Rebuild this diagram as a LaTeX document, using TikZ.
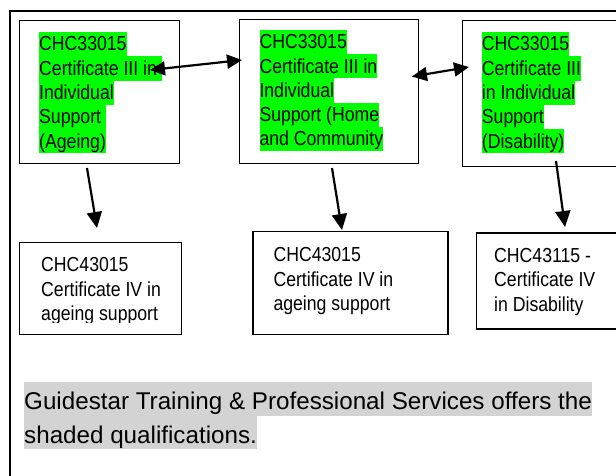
\documentclass[tikz,border=0pt]{standalone}
\usepackage{fontspec}
\setmainfont{Liberation Sans}
\newfontfamily\boxfont[FakeStretch=0.87]{Liberation Sans}
\usetikzlibrary{arrows.meta}
\definecolor{hlgreen}{RGB}{0,255,0}
\definecolor{hlgray}{RGB}{211,211,211}
\newcommand\ghl[1]{{\setlength\fboxsep{0pt}\colorbox{hlgreen}{\rule[-5.3pt]{0pt}{24.3pt}#1}}}
\newcommand\gyl[1]{{\setlength\fboxsep{0pt}\colorbox{hlgray}{\rule[-6pt]{0pt}{33.5pt}#1}}}
\newcommand\bxfont{\boxfont\fontsize{20.3pt}{24.3pt}\selectfont\lineskiplimit=-10pt\relax}
\newcommand\lowfont{\boxfont\fontsize{20.3pt}{24.4pt}\selectfont\lineskiplimit=-10pt\relax}
\newcommand\notefont{\fontsize{24.2pt}{33.5pt}\selectfont\lineskiplimit=-10pt\relax}
\newcommand\topstrut{\rule{0pt}{15pt}}
\tikzset{
  box/.style={draw, line width=1.3pt, fill=white, anchor=north west, inner sep=0pt},
  hltext/.style={anchor=north west, inner sep=0pt, align=left, font=\bxfont},
  lowtext/.style={anchor=north west, inner sep=0pt, align=left, font=\lowfont},
  arr/.style={line width=2.2pt, -{Triangle[length=16pt,width=15pt]}},
  darr/.style={line width=2.2pt, {Triangle[length=15pt,width=14pt]}-{Triangle[length=15pt,width=14pt]}}
}
\begin{document}
\begin{tikzpicture}[x=1pt,y=-1pt]
\useasboundingbox (0,0) rectangle (616,475);
\clip (0,0) rectangle (616,475);
\fill[white] (0,0) rectangle (616,475);
% outer frame
\draw[line width=2pt] (10,480) -- (10,11) -- (625,11) -- (625,480);
% upper boxes
\node[box, minimum width=160pt, minimum height=143pt] (b1) at (19,20) {};
\node[box, minimum width=179.5pt, minimum height=144pt] (b2) at (238.5,19) {};
\node[box, minimum width=154pt, minimum height=146pt] (b3) at (461.5,20) {};
% lower boxes
\node[box, minimum width=162pt, minimum height=92pt] (b4) at (19,242) {};
\node[box, minimum width=195pt, minimum height=103pt] (b5) at (252.3,231) {};
\node[box, minimum width=140pt, minimum height=96pt] (b6) at (476,232.3) {};
% highlighted texts
\node[hltext] (t1) at (39,31.7) {\ghl{CHC33015}\\\ghl{Certificate III in }\\\ghl{Individual}\\\ghl{Support }\\\ghl{(Ageing)}};
\node[hltext] (t2) at (259.3,29.5) {\ghl{CHC33015}\\\ghl{Certificate III in}\\\ghl{Individual}\\\ghl{Support (Home}\\\ghl{and Community}};
\node[hltext] (t3) at (481.7,31.7) {\ghl{CHC33015}\\\ghl{Certificate III}\\\ghl{in Individual}\\\ghl{Support}\\\ghl{(Disability)}};
% lower texts
\begin{scope}
\clip (19,242) rectangle (181,322.7);
\node[lowtext] (t4) at (41,256.7) {\topstrut CHC43015\\Certificate IV in\\ageing support};
\end{scope}
\node[lowtext] (t5) at (273.3,246.7) {\topstrut CHC43015\\Certificate IV in\\ageing support};
\node[lowtext] (t6) at (494,247) {\topstrut CHC43115 -\\Certificate IV\\in Disability};
% note
\node[anchor=north west, inner sep=0pt, align=left, font=\notefont] (note) at (24,382)
  {\gyl{Guidestar Training \& Professional Services offers the}\\\gyl{shaded qualifications.}};
% arrow end points
\coordinate (a1s) at (150,70);
\coordinate (a1e) at (242,60);
\coordinate (a2s) at (412,76.5);
\coordinate (a2e) at (469,67);
\coordinate (d1s) at (87,168);
\coordinate (d1e) at (97,228);
\coordinate (d2s) at (332,168);
\coordinate (d2e) at (342,230);
\coordinate (d3s) at (556,161);
\coordinate (d3e) at (565,227);
\draw[darr] (a1s) -- (a1e);
\draw[darr] (a2s) -- (a2e);
\draw[arr] (d1s) -- (d1e);
\draw[arr] (d2s) -- (d2e);
\draw[arr] (d3s) -- (d3e);
\end{tikzpicture}
\end{document}
